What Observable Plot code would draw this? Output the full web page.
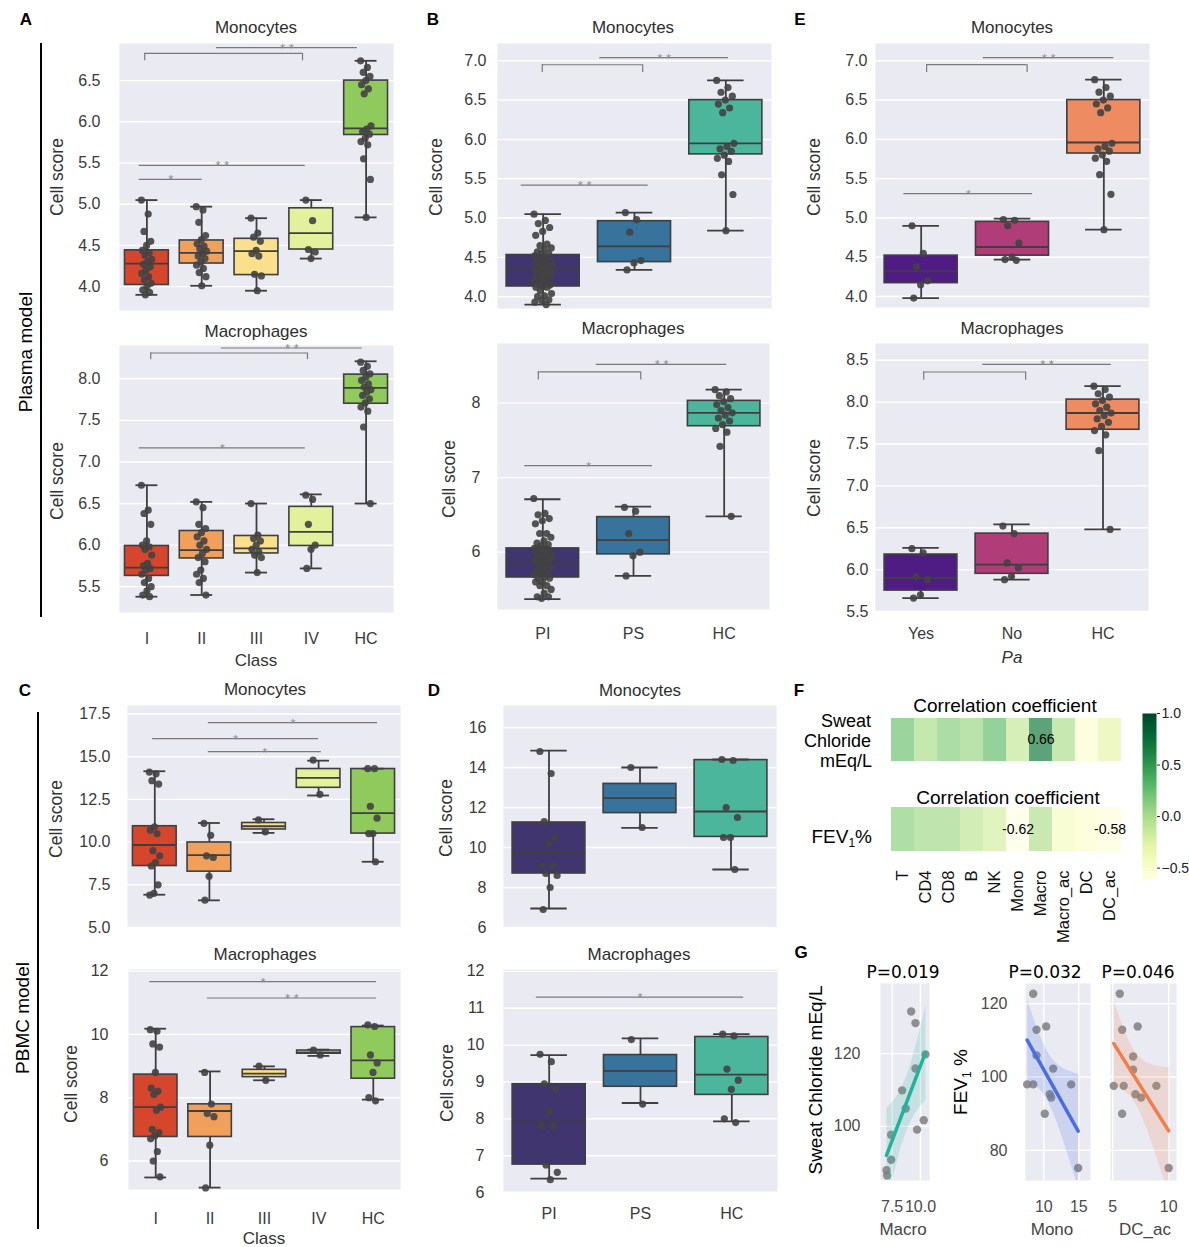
<!DOCTYPE html>
<html><head><meta charset="utf-8">
<script src="https://cdn.jsdelivr.net/npm/d3@7"></script>
<script src="https://cdn.jsdelivr.net/npm/@observablehq/plot@0.6"></script>
<style>
body{margin:0;background:#fff;}
#fig{position:relative;width:1189px;height:1247px;overflow:hidden;font-family:"Liberation Sans",Arial,sans-serif;background:#fff;}
.t{position:absolute;white-space:nowrap;transform:translate(-50%,-50%);line-height:1;}
.r{transform:translate(-50%,-50%) rotate(-90deg);}
.ra{transform:translate(-100%,-50%);}
.vl{position:absolute;background:#000;width:1.5px;}
</style></head><body><div id="fig"></div>
<script>
// ---------------- DATA ----------------
const classCats = ["I","II","III","IV","HC"];
const pCats = ["PI","PS","HC"];
const paCats = ["Yes","No","HC"];

const classColors = ["#d6462d","#f0a05a","#fae08c","#e3f09c","#90c95c"];
const pColors = ["#41356f","#37739b","#4bb69b"];
const paColors = ["#4f1c84","#b03c78","#ef8b60"];

// box stats per group: [low whisker, q1, median, q3, high whisker]
const aMonoBox = [[3.90,4.02,4.28,4.44,5.05],[4.01,4.28,4.41,4.56,4.97],[3.95,4.14,4.43,4.58,4.83],[4.34,4.45,4.65,4.95,5.05],[4.84,5.84,5.92,6.50,6.74]];
const aMacroBox = [[5.38,5.63,5.73,5.99,6.72],[5.40,5.84,5.94,6.17,6.52],[5.67,5.90,5.96,6.11,6.50],[5.72,5.99,6.16,6.46,6.61],[6.50,7.70,7.89,8.05,8.21]];
const bMonoBox = [[3.90,4.13,4.35,4.53,5.05],[4.34,4.44,4.64,4.96,5.07],[4.84,5.81,5.95,6.50,6.75]];
const bMacroBox = [[5.37,5.66,5.87,6.05,6.71],[5.68,5.97,6.16,6.47,6.61],[6.48,7.69,7.87,8.03,8.18]];
const eMonoBox = [[3.98,4.17,4.32,4.52,4.90],[4.47,4.52,4.63,4.95,4.99],[4.85,5.82,5.96,6.50,6.76]];
const eMacroBox = [[5.66,5.75,5.90,6.18,6.26],[5.88,5.95,6.06,6.43,6.54],[6.48,7.67,7.87,8.03,8.19]];
const cMonoBox = [[6.92,8.60,9.83,10.93,14.15],[6.59,8.27,9.24,9.98,11.12],[10.54,10.74,10.93,11.12,11.34],[12.73,13.18,13.76,14.28,14.77],[8.85,10.50,11.70,14.28,14.30]];
const cMacroBox = [[5.48,6.76,7.70,8.73,10.18],[5.16,6.76,7.58,7.79,8.83],[8.55,8.65,8.76,8.88,8.99],[9.32,9.39,9.43,9.49,9.52],[7.94,8.60,9.18,10.23,10.28]];
const dMonoBox = [[6.95,8.70,9.76,11.25,14.84],[10.98,11.72,12.47,13.18,14.00],[8.90,10.53,11.80,14.37,14.40]];
const dMacroBox = [[6.38,6.76,7.93,8.94,9.73],[8.43,8.87,9.30,9.73,10.18],[7.93,8.65,9.20,10.22,10.30]];

// individual scores per group
const aMonoPts = [
  [5.05,4.88,4.67,4.55,4.50,4.44,4.41,4.38,4.33,4.30,4.27,4.24,4.20,4.16,4.12,4.08,4.04,4.00,3.96,3.93,3.90],
  [4.97,4.93,4.78,4.62,4.57,4.52,4.49,4.46,4.43,4.40,4.37,4.34,4.30,4.26,4.22,4.17,4.12,4.01],
  [4.83,4.65,4.60,4.55,4.44,4.40,4.37,4.15,4.13,3.95],
  [5.05,4.80,4.45,4.42,4.34],
  [6.74,6.66,6.60,6.55,6.50,6.45,6.40,6.34,5.95,5.91,5.88,5.85,5.80,5.76,5.72,5.55,5.30,4.84]];
const aMacroPts = [
  [6.72,6.42,6.38,6.25,6.05,6.00,5.98,5.95,5.88,5.78,5.75,5.72,5.70,5.65,5.60,5.55,5.50,5.45,5.40,5.38],
  [6.52,6.45,6.25,6.20,6.15,6.10,6.05,6.00,5.95,5.90,5.85,5.80,5.70,5.65,5.60,5.55,5.40],
  [6.50,6.12,6.08,6.05,6.00,5.95,5.92,5.88,5.85,5.67],
  [6.60,6.55,6.25,6.00,5.95,5.72],
  [8.20,8.15,8.10,8.06,8.02,7.98,7.94,7.90,7.87,7.84,7.80,7.76,7.71,7.66,7.61,7.42,6.50]];
const bMonoPts = [
  [5.05,4.97,4.93,4.88,4.83,4.78,4.67,4.65,4.62,4.60,4.57,4.55,4.55,4.52,4.50,4.49,4.46,4.44,4.44,4.43,4.41,4.40,4.40,4.38,4.37,4.37,4.34,4.33,4.30,4.30,4.27,4.26,4.24,4.22,4.20,4.17,4.16,4.15,4.13,4.12,4.12,4.08,4.04,4.01,4.00,3.96,3.95,3.93,3.90],
  [5.07,4.98,4.82,4.46,4.43,4.34],
  [6.75,6.66,6.60,6.55,6.50,6.45,6.40,6.34,5.95,5.91,5.88,5.85,5.80,5.76,5.72,5.55,5.30,4.84]];
const bMacroPts = [
  [6.72,6.52,6.50,6.45,6.42,6.38,6.25,6.25,6.20,6.15,6.12,6.10,6.08,6.05,6.05,6.05,6.00,6.00,6.00,5.98,5.95,5.95,5.95,5.92,5.90,5.88,5.88,5.85,5.85,5.80,5.78,5.75,5.72,5.70,5.70,5.67,5.65,5.65,5.60,5.60,5.55,5.55,5.50,5.45,5.40,5.40,5.38],
  [6.60,6.55,6.25,6.00,5.95,5.68],
  [8.18,8.15,8.10,8.06,8.02,7.98,7.94,7.90,7.87,7.84,7.80,7.76,7.71,7.66,7.61,7.42,6.48]];
const eMonoPts = [
  [4.90,4.55,4.38,4.20,4.15,3.98],
  [4.98,4.97,4.90,4.68,4.50,4.47,4.46],
  [6.76,6.66,6.60,6.55,6.50,6.45,6.40,6.34,5.95,5.91,5.88,5.85,5.80,5.76,5.72,5.55,5.30,4.85]];
const eMacroPts = [
  [6.25,6.20,5.92,5.88,5.70,5.66],
  [6.52,6.43,6.08,6.02,5.92,5.88],
  [8.19,8.15,8.10,8.06,8.02,7.98,7.94,7.90,7.87,7.84,7.80,7.76,7.71,7.66,7.61,7.42,6.48]];
const cMonoPts = [
  [14.1,14.0,13.6,13.4,10.9,10.7,10.5,9.5,9.2,8.8,8.6,7.5,7.0,6.9],
  [11.1,10.4,9.2,9.1,8.0,6.6],
  [11.3,10.6],
  [14.8,12.8],
  [14.3,14.3,12.1,11.4,10.5,10.5,8.85]];
const cMacroPts = [
  [10.15,10.1,9.7,9.6,8.8,8.3,8.2,8.1,7.7,7.6,7.0,6.9,6.8,6.7,6.3,6.0,5.5],
  [8.8,7.8,7.5,7.4,6.5,5.15],
  [9.0,8.55],
  [9.5,9.35],
  [10.3,10.25,9.35,9.1,8.8,8.0,7.9]];
const dMonoPts = [
  [14.8,13.7,11.3,10.5,10.2,9.1,9.1,8.7,8.6,8.0,6.9],
  [14.0,11.0],
  [14.4,14.35,12.0,11.5,10.5,10.5,8.9]];
const dMacroPts = [
  [9.75,9.55,8.95,8.8,8.2,7.8,7.8,6.75,6.55,6.35],
  [10.15,8.4],
  [10.3,10.25,9.35,9.05,8.8,8.0,7.9]];

// significance annotations: x1,x2 in category-index units, y in score units, tick = bracket end
const aMonoSig = [{x1:-0.04,x2:2.84,y:6.83,tick:6.74,label:""},{x1:1.27,x2:3.84,y:6.90,label:"* *"},{x1:-0.14,x2:2.89,y:5.47,label:"* *"},{x1:-0.14,x2:1.01,y:5.30,label:"*"}];
const aMacroSig = [{x1:0.07,x2:2.93,y:8.31,tick:8.23,label:""},{x1:1.36,x2:3.93,y:8.37,label:"* *"},{x1:-0.14,x2:2.89,y:7.17,label:"*"}];
const bMonoSig = [{x1:-0.01,x2:1.09,y:6.95,tick:6.85,label:""},{x1:0.62,x2:2.03,y:7.04,label:"* *"},{x1:-0.24,x2:1.15,y:5.42,label:"* *"}];
const bMacroSig = [{x1:-0.05,x2:1.08,y:8.42,tick:8.31,label:""},{x1:0.59,x2:2.03,y:8.52,label:"* *"},{x1:-0.2,x2:1.21,y:7.16,label:"*"}];
const eMonoSig = [{x1:0.06,x2:1.16,y:6.95,tick:6.85,label:""},{x1:0.68,x2:2.11,y:7.04,label:"* *"},{x1:-0.19,x2:1.22,y:5.31,label:"*"}];
const eMacroSig = [{x1:0.03,x2:1.15,y:8.36,tick:8.26,label:""},{x1:0.68,x2:2.09,y:8.45,label:"* *"}];
const cMonoSig = [{x1:0.98,x2:4.08,y:17.0,label:"*"},{x1:-0.04,x2:3.0,y:16.06,label:"*"},{x1:0.98,x2:3.05,y:15.3,label:"*"}];
const cMacroSig = [{x1:-0.11,x2:4.06,y:11.67,label:"*"},{x1:0.95,x2:4.06,y:11.15,label:"* *"}];
const dMonoSig = [];
const dMacroSig = [{x1:-0.14,x2:2.13,y:11.3,label:"*"}];

// tick values
const ticksAMono = [4.0,4.5,5.0,5.5,6.0,6.5];
const ticksAMacro = [5.5,6.0,6.5,7.0,7.5,8.0];
const ticksBMono = [4.0,4.5,5.0,5.5,6.0,6.5,7.0];
const ticksBMacro = [6,7,8];
const ticksEMacro = [5.5,6.0,6.5,7.0,7.5,8.0,8.5];
const ticksCMono = [5.0,7.5,10.0,12.5,15.0,17.5];
const ticksCMacro = [6,8,10,12];
const ticksDMono = [6,8,10,12,14,16];
const ticksDMacro = [6,7,8,9,10,11,12];

// heatmap F
const cellCols = ["T","CD4","CD8","B","NK","Mono","Macro","Macro_ac","DC","DC_ac"];
const sweatCorr = [0.22,-0.02,0.12,0.05,0.25,-0.12,0.66,-0.03,-0.52,-0.30];
const fevCorr = [0.10,0.02,0.02,-0.10,-0.20,-0.62,-0.05,-0.45,-0.52,-0.58];
const sweatShown = [0,0,0,0,0,0,1,0,0,0];
const fevShown = [0,0,0,0,0,1,0,0,0,1];
const cbarTicks = [-0.5,0.0,0.5,1.0];

// scatter G
const g1Macro = [7.00,7.05,7.41,7.41,8.38,8.70,9.18,9.56,9.56,9.70,10.29,10.44];
const g1Sweat = [87.9,86.5,90.8,97.7,109.9,104.9,131.6,128.4,115.9,99.1,101.7,119.8];
const g2Mono = [8.49,7.63,8.49,8.96,8.96,10.34,10.14,10.86,11.06,11.34,13.91,14.91];
const g2Fev = [122.7,98.0,98.0,112.9,105.9,113.8,90.0,95.3,94.4,102.3,98.0,75.2];
const g3DC = [5.63,5.09,5.98,5.84,5.84,7.23,6.82,6.82,7.03,7.53,8.90,10.00];
const g3Fev = [122.7,97.6,97.6,112.9,90.0,113.8,105.6,102.0,95.3,94.4,97.6,75.2];

// ---------------- DRAWING ----------------
const fig = document.getElementById("fig");
const EDGE = "#3f3f3f";
const FONT = "'Liberation Sans', Arial, sans-serif";
function place(node, left, top){ node.style.position="absolute"; node.style.left=left+"px"; node.style.top=top+"px"; fig.appendChild(node); }
function label(html, x, y, css={}, cls="t"){ const d=document.createElement("div"); d.className=cls; d.innerHTML=html; d.style.left=x+"px"; d.style.top=y+"px"; Object.assign(d.style, css); fig.appendChild(d); }
function jit(k){ return (((k*0.6180339887)%1) - 0.5)*0.2; }

function sigMarks(sig){
  const br = sig.filter(s=>s.tick!=null).flatMap(s=>[{x:s.x1,y1:s.y,y2:s.tick},{x:s.x2,y1:s.y,y2:s.tick}]);
  return [
    Plot.ruleY(sig,{x1:"x1",x2:"x2",y:"y",stroke:"#7a7a7a",strokeWidth:1.2}),
    Plot.ruleX(br,{x:"x",y1:"y1",y2:"y2",stroke:"#7a7a7a",strokeWidth:1.2}),
    Plot.text(sig.filter(s=>s.label),{x:s=>(s.x1+s.x2)/2,y:"y",text:"label",lineAnchor:"bottom",dy:5,fill:"#8a8a8a",fontSize:13})
  ];
}

function boxPanel(c){
  const n = c.cats.length, ML = 60, MB = 40;
  const stats = c.box.map((b,i)=>({i,lo:b[0],q1:b[1],med:b[2],q3:b[3],hi:b[4]}));
  const caps = stats.flatMap(d=>[{i:d.i,v:d.lo},{i:d.i,v:d.hi}]);
  const pts = c.pts.flatMap((arr,i)=>arr.map((v,k)=>({i,v,k})));
  const marks = [
    Plot.frame({fill:"#eaeaf2",stroke:"none"}),
    Plot.gridY(c.ticks,{stroke:"#fff",strokeOpacity:1,strokeWidth:1.4}),
    Plot.ruleX(stats,{x:"i",y1:"lo",y2:"hi",stroke:EDGE,strokeWidth:1.8}),
    Plot.rect(stats,{x1:d=>d.i-0.4,x2:d=>d.i+0.4,y1:"q1",y2:"q3",fill:d=>c.colors[d.i],stroke:EDGE,strokeWidth:1.6}),
    Plot.ruleY(stats,{x1:d=>d.i-0.4,x2:d=>d.i+0.4,y:"med",stroke:EDGE,strokeWidth:1.8}),
    Plot.ruleY(caps,{x1:d=>d.i-0.2,x2:d=>d.i+0.2,y:"v",stroke:EDGE,strokeWidth:1.8}),
    Plot.dot(pts,{x:d=>d.i+jit(d.k),y:"v",r:3.6,fill:"#424242",fillOpacity:0.9}),
    ...sigMarks(c.sig),
    Plot.axisY(c.ticks,{tickSize:0,tickPadding:c.pad,tickFormat:c.fmt,label:null})
  ];
  if (c.showX) marks.push(Plot.axisX(d3.range(n),{tickSize:0,tickPadding:c.xPad,tickFormat:i=>c.cats[i],label:null}));
  const svg = Plot.plot({
    width:c.w+ML, height:c.h+MB, marginLeft:ML, marginRight:0, marginTop:0, marginBottom:MB,
    x:{domain:[-0.5,n-0.5],axis:c.showX?undefined:null}, y:{domain:c.domain},
    style:{fontFamily:FONT,fontSize:"16px",color:"#3a3a3a",background:"none",overflow:"visible"},
    marks
  });
  place(svg, c.x0-ML, c.y0);
}

const f1 = d3.format(".1f"), f0 = d3.format("d");
boxPanel({cats:classCats,box:aMonoBox,pts:aMonoPts,colors:classColors,sig:aMonoSig,ticks:ticksAMono,fmt:f1,domain:[3.71,6.95],x0:119,y0:43,w:274,h:267,pad:19});
boxPanel({cats:classCats,box:aMacroBox,pts:aMacroPts,colors:classColors,sig:aMacroSig,ticks:ticksAMacro,fmt:f1,domain:[5.19,8.40],x0:119,y0:345,w:274,h:267,pad:19,showX:true,xPad:20});
boxPanel({cats:pCats,box:bMonoBox,pts:bMonoPts,colors:pColors,sig:bMonoSig,ticks:ticksBMono,fmt:f1,domain:[3.85,7.22],x0:497,y0:43,w:274,h:265,pad:11});
boxPanel({cats:pCats,box:bMacroBox,pts:bMacroPts,colors:pColors,sig:bMacroSig,ticks:ticksBMacro,fmt:f0,domain:[5.23,8.80],x0:497,y0:343,w:272,h:266,pad:17,showX:true,xPad:18});
boxPanel({cats:paCats,box:eMonoBox,pts:eMonoPts,colors:paColors,sig:eMonoSig,ticks:ticksBMono,fmt:f1,domain:[3.86,7.22],x0:875,y0:43,w:274,h:264,pad:8});
boxPanel({cats:paCats,box:eMacroBox,pts:eMacroPts,colors:paColors,sig:eMacroSig,ticks:ticksEMacro,fmt:f1,domain:[5.5,8.7],x0:875,y0:343,w:273,h:268,pad:7,showX:true,xPad:16});
boxPanel({cats:classCats,box:cMonoBox,pts:cMonoPts,colors:classColors,sig:cMonoSig,ticks:ticksCMono,fmt:f1,domain:[5.0,18.0],x0:127,y0:705,w:273,h:222,pad:17});
boxPanel({cats:classCats,box:cMacroBox,pts:cMacroPts,colors:classColors,sig:cMacroSig,ticks:ticksCMacro,fmt:f0,domain:[5.1,12.05],x0:128,y0:969,w:272,h:220,pad:20,showX:true,xPad:23});
boxPanel({cats:pCats,box:dMonoBox,pts:dMonoPts,colors:pColors,sig:dMonoSig,ticks:ticksDMono,fmt:f0,domain:[6.0,17.1],x0:503,y0:705,w:273,h:222,pad:17});
boxPanel({cats:pCats,box:dMacroBox,pts:dMacroPts,colors:pColors,sig:dMacroSig,ticks:ticksDMacro,fmt:f0,domain:[6.03,12.05],x0:503,y0:969,w:274,h:222,pad:19,showX:true,xPad:16});

// ---- heatmap F ----
const colorOpts = {type:"linear",scheme:"YlGn",domain:[-0.62,1]};
function heatRow(vals, shown, top, showX){
  const data = cellCols.map((c,i)=>({c,v:vals[i],s:shown[i]}));
  const marks = [
    Plot.cell(data,{x:"c",y:()=>"r",fill:"v",inset:0,fillOpacity:0.7}),
    Plot.text(data.filter(d=>d.s),{x:"c",y:()=>"r",text:d=>d.v.toFixed(2),fill:"#000",fontSize:14})
  ];
  if (showX) marks.push(Plot.axisX({tickSize:0,tickPadding:19,tickRotate:-90,label:null}));
  const svg = Plot.plot({
    width:235, height:showX?44+100:43, marginLeft:0, marginRight:0, marginTop:0, marginBottom:showX?100:0,
    x:{domain:cellCols,padding:0,axis:showX?undefined:null}, y:{domain:["r"],padding:0,axis:null},
    color:colorOpts,
    style:{fontFamily:FONT,fontSize:"16.5px",color:"#111",background:"none",overflow:"visible"},
    marks
  });
  place(svg, 888, top);
}
heatRow(sweatCorr, sweatShown, 718, false);
heatRow(fevCorr, fevShown, 807, true);
{
  const svg = Plot.plot({
    width:14+46, height:167, marginLeft:0, marginRight:46, marginTop:0, marginBottom:0,
    x:{domain:[0,1],axis:null}, y:{domain:[-0.62,1]}, color:colorOpts,
    style:{fontFamily:FONT,fontSize:"14px",color:"#222",background:"none",overflow:"visible"},
    marks:[
      Plot.raster({fill:(x,y)=>y,x1:0,x2:1,y1:-0.62,y2:1,width:2,height:200}),
      Plot.axisY(cbarTicks,{anchor:"right",tickSize:3,tickPadding:2,tickFormat:f1,label:null})
    ]
  });
  place(svg, 1142, 713);
}

// ---- scatter G ----
function scatterPanel(c){
  const ML=50, MB=40;
  const data = c.xs.map((x,i)=>({x,y:c.ys[i]}));
  const marks = [
    Plot.frame({fill:"#eaeaf2",stroke:"none"}),
    Plot.gridX(c.xt,{stroke:"#fff",strokeOpacity:1,strokeWidth:1.4}),
    Plot.gridY(c.yt,{stroke:"#fff",strokeOpacity:1,strokeWidth:1.4}),
    Plot.dot(data,{x:"x",y:"y",r:4.2,fill:"#7f7f7f",fillOpacity:0.85}),
    Plot.linearRegressionY(data,{x:"x",y:"y",stroke:c.color,fill:c.color,fillOpacity:0.18,strokeWidth:3.5,clip:true}),
    Plot.axisX(c.xt,{tickSize:0,tickPadding:20,tickFormat:c.xf,label:null})
  ];
  if (c.showY) marks.push(Plot.axisY(c.yt,{tickSize:0,tickPadding:c.pad,label:null}));
  const svg = Plot.plot({
    width:c.w+ML, height:c.h+MB, marginLeft:ML, marginRight:0, marginTop:0, marginBottom:MB,
    x:{domain:c.xd}, y:{domain:c.yd,axis:c.showY?undefined:null},
    style:{fontFamily:FONT,fontSize:"16px",color:"#4a4a4a",background:"none",overflow:"visible"},
    marks
  });
  place(svg, c.x0-ML, c.y0);
}
scatterPanel({xs:g1Macro,ys:g1Sweat,xd:[6.47,10.8],yd:[85.1,139.3],xt:[7.5,10.0],yt:[100,120],xf:f1,color:"#22b29c",showY:true,pad:20,x0:880,y0:983,w:49,h:197});
scatterPanel({xs:g2Mono,ys:g2Fev,xd:[7.39,16.67],yd:[71.8,125.5],xt:[10,15],yt:[80,100,120],xf:f0,color:"#4a6ee0",showY:true,pad:18,x0:1025,y0:983,w:65,h:197});
scatterPanel({xs:g3DC,ys:g3Fev,xd:[4.8,10.7],yd:[71.8,125.5],xt:[5,10],yt:[80,100,120],xf:f0,color:"#f27d4a",showY:false,pad:18,x0:1110,y0:983,w:66,h:197});

// ---------------- TEXT ----------------
const B = {fontWeight:"bold",fontSize:"17px",color:"#000"};
[["A",26,19],["B",433,19],["E",800,19],["C",25,690],["D",434,690],["F",799,690],["G",801,952]].forEach(([t,x,y])=>label(t,x,y,B));
const TT = {fontSize:"17px",color:"#2e2e2e"};
[["Monocytes",256,27],["Macrophages",256,331],["Monocytes",633,27],["Macrophages",633,328],["Monocytes",1012,27],["Macrophages",1012,328],
 ["Monocytes",265,689],["Macrophages",265,954],["Monocytes",640,690],["Macrophages",639,954]].forEach(([t,x,y])=>label(t,x,y,TT));
[[58,177],[58,481],[437,177],[450,479],[815,177],[815,478],[57,819],[72,1084],[447,818],[448,1083]].forEach(([x,y])=>label("Cell score",x,y,{fontSize:"17.5px",color:"#333"},"t r"));
label("Class",256,660,{fontSize:"17px",color:"#333"});
label("Class",264,1238,{fontSize:"17px",color:"#333"});
label("Pa",1012,657,{fontSize:"17px",color:"#333",fontStyle:"italic"});
label("Plasma model",25,352,{fontSize:"19px",color:"#000"},"t r");
label("PBMC model",22,1018,{fontSize:"19px",color:"#000"},"t r");
{ const l=document.createElement("div"); l.className="vl"; Object.assign(l.style,{left:"40px",top:"43px",height:"574px"}); fig.appendChild(l);
  const m=document.createElement("div"); m.className="vl"; Object.assign(m.style,{left:"37px",top:"712px",height:"517px"}); fig.appendChild(m); }
const FT = {fontSize:"19px",color:"#000"};
const RL = {fontSize:"18px",color:"#000"};
label("Correlation coefficient",1005,705,FT);
label("Correlation coefficient",1008,797,FT);
label("Sweat",871,721,RL,"t ra");
label("Chloride",871,741,RL,"t ra");
label("mEq/L",872,761,RL,"t ra");
label("FEV<sub style='font-size:12px'>1</sub>%",872,838,FT,"t ra");
const PF = {fontSize:"17px",color:"#000",fontFamily:"'DejaVu Sans',sans-serif"};
label("P=0.019",903,972,PF);
label("P=0.032",1045,972,PF);
label("P=0.046",1138,972,PF);
label("Sweat Chloride mEq/L",815,1080,{fontSize:"19px",color:"#000"},"t r");
label("FEV<sub style='font-size:12px'>1</sub> %",962,1082,{fontSize:"19px",color:"#000"},"t r");
const GX = {fontSize:"17px",color:"#444"};
label("Macro",903,1229,GX);
label("Mono",1052,1229,GX);
label("DC_ac",1145,1229,GX);
</script></body></html>
